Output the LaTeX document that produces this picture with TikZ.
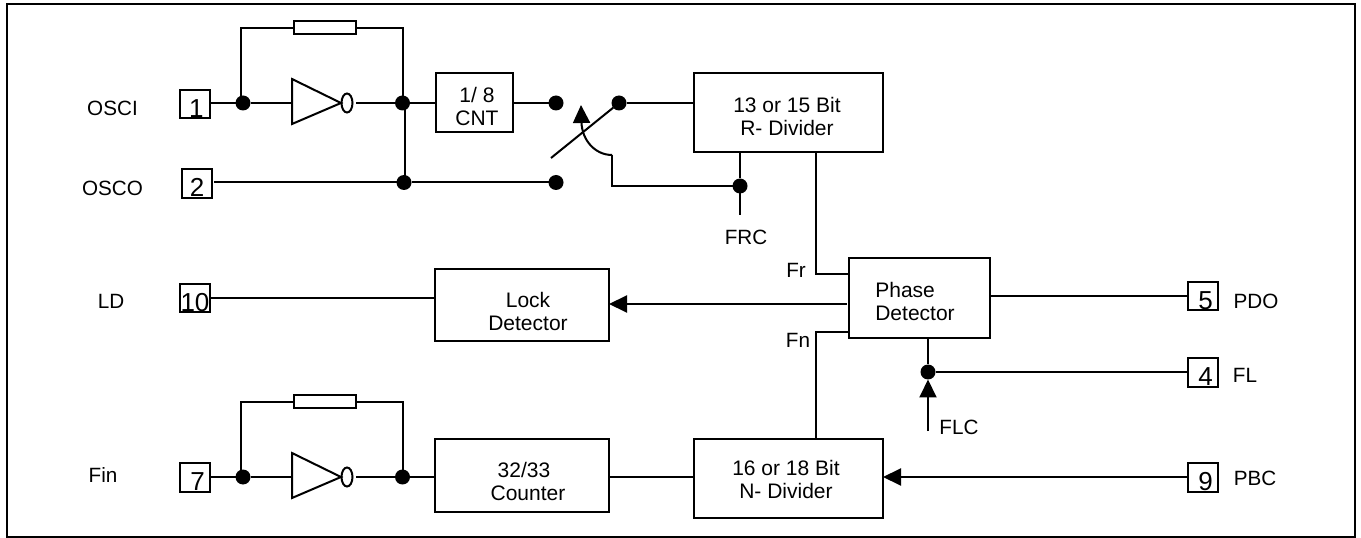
\documentclass[tikz,border=0pt]{standalone}
\usepackage{fontspec}
\setmainfont{Liberation Sans}
\usetikzlibrary{arrows.meta,shapes.geometric}
\newcommand{\pinnum}[2][0pt]{\raisebox{-10pt}[0pt][0pt]{\hspace*{#1}#2}}
\tikzset{every picture/.style={line width=1.5pt}}
\tikzset{
  blockbox/.style={draw,rectangle,inner sep=0pt,outer sep=0pt},
  pinbox/.style={draw,rectangle,inner sep=0pt,outer sep=0pt,minimum width=22.5pt,minimum height=21.5pt,font=\fontsize{19.5}{19.5}\selectfont},
  resbox/.style={draw,rectangle,inner sep=0pt,outer sep=0pt,minimum width=46.5pt,minimum height=9.75pt},
  dotnode/.style={circle,fill=black,inner sep=0pt,outer sep=0pt,minimum size=11.25pt},
  bubble/.style={draw,ellipse,inner sep=0pt,outer sep=0pt,minimum width=8.25pt,minimum height=14.25pt},
  boxtext/.style={inner sep=0pt,align=center,font=\fontsize{15.75}{17.25}\selectfont},
  pinlabel/.style={inner sep=0pt,font=\fontsize{15.5}{17}\selectfont},
  headarrow/.style={-{Triangle[length=13.5pt,width=12.75pt]}}
}
\begin{document}
\begin{tikzpicture}[x=0.75pt,y=0.75pt,yscale=-1,xscale=1]
\useasboundingbox (0,0) rectangle (1361,538);
%Shape: Rectangle
\draw [line width=1.6pt] (7,4) rectangle (1355,537) ;
%Shape: Pins
\draw (195,104) node [pinbox] (pinOne) {\pinnum[2pt]{1}};
\draw (197,183.5) node [pinbox] (pinTwo) {\pinnum{2}};
\draw (195,298) node [pinbox] (pinTen) {\pinnum{10}};
\draw (195,477.5) node [pinbox] (pinSeven) {\pinnum[4pt]{7}};
\draw (1203,296) node [pinbox] (pinFive) {\pinnum[4pt]{5}};
\draw (1203,372.5) node [pinbox] (pinFour) {\pinnum[4pt]{4}};
\draw (1203,477.5) node [pinbox] (pinNine) {\pinnum[4pt]{9}};
%Shape: Blocks
\draw (474.5,102.5) node [blockbox,minimum width=57.75pt,minimum height=44.25pt] (cntBox) {};
\draw (788.5,112.5) node [blockbox,minimum width=141.75pt,minimum height=59.25pt] (rDivider) {};
\draw (919.5,298) node [blockbox,minimum width=105.75pt,minimum height=60pt] (phaseDet) {};
\draw (522,305) node [blockbox,minimum width=130.5pt,minimum height=54pt] (lockDet) {};
\draw (522,475.5) node [blockbox,minimum width=130.5pt,minimum height=54.75pt] (counterBox) {};
\draw (788.5,478.5) node [blockbox,minimum width=141.75pt,minimum height=59.25pt] (nDivider) {};
%Shape: Resistors
\draw (325,28) node [resbox] (resTop) {};
\draw (325,402) node [resbox] (resBot) {};
%Shape: Dots
\draw (243,103) node [dotnode] (dotA) {};
\draw (402.5,103) node [dotnode] (dotB) {};
\draw (404,182.5) node [dotnode] (dotC) {};
\draw (556,103) node [dotnode] (dotD) {};
\draw (619,103) node [dotnode] (dotE) {};
\draw (556,182.5) node [dotnode] (dotF) {};
\draw (740,186) node [dotnode] (dotG) {};
\draw (928,372) node [dotnode] (dotH) {};
\draw (243,477) node [dotnode] (dotI) {};
\draw (402.5,477) node [dotnode] (dotJ) {};
%Shape: Inverters
\coordinate (invTopIn) at (292,103);
\coordinate (invTopOut) at (356,103);
\coordinate (invBotIn) at (292,477);
\coordinate (invBotOut) at (356,477);
\draw (292,79) -- (341,103) -- (292,124) -- cycle ;
\draw (292,453) -- (341,477) -- (292,498) -- cycle ;
\draw (347,103) node [bubble] (bubbleTop) {};
\draw (347,477) node [bubble] (bubbleBot) {};
%Straight Lines
\coordinate (tapTop) at (241,103);
\coordinate (tapBot) at (241,477);
\coordinate (tapOut) at (405,103);
\coordinate (pinTwoOut) at (214,182.5);
\draw    (pinOne.east |- dotA) -- (dotA) ;
\draw    (dotA) -- (invTopIn) ;
\draw    (invTopOut) -- (dotB) ;
\draw    (dotB) -- (cntBox.west |- dotB) ;
\draw    (cntBox.east |- dotD) -- (dotD) ;
\draw    (dotE) -- (rDivider.west |- dotE) ;
\draw    (tapTop) |- (resTop.west) ;
\draw    (resTop.east) -| (dotB.center) ;
\draw    (tapOut) -- (tapOut |- dotC) ;
\draw    (pinTwoOut) -- (dotC) ;
\draw    (dotC) -- (dotF) ;
%Switch
\coordinate (swFree) at (551,158);
\coordinate (swBend) at (612,155);
\coordinate (frcEnd) at (740,215);
\coordinate (swTip) at (581,105);
\draw    (swFree) -- (dotE) ;
\draw [headarrow]   (swBend) .. controls (595,155) and (582,140) .. (swTip) ;
\draw    (swBend) |- (dotG) ;
\draw    (rDivider.south -| dotG) -- (dotG) ;
\draw    (dotG) -- (frcEnd) ;
%Phase detector lines
\coordinate (frBend) at (816,274);
\coordinate (fnBend) at (816,332);
\draw    (rDivider.south -| frBend) -- (frBend) -- (phaseDet.west |- frBend) ;
\draw    (phaseDet.west |- fnBend) -- (fnBend) -- (nDivider.north -| fnBend) ;
\coordinate (lockStart) at (847,304);
\draw [headarrow]   (lockStart) -- (lockDet.east |- lockStart) ;
\draw    (pinTen.east) -- (lockDet.west |- pinTen) ;
\draw    (phaseDet.east |- pinFive) -- (pinFive.west) ;
\draw    (phaseDet.south -| dotH) -- (dotH) ;
\draw    (dotH) -- (pinFour.west |- dotH) ;
\coordinate (flcEnd) at (928,431);
\draw [headarrow]   (flcEnd) -- (dotH.south) ;
%Lower chain
\draw    (pinSeven.east |- dotI) -- (dotI) ;
\draw    (dotI) -- (invBotIn) ;
\draw    (invBotOut) -- (dotJ) ;
\draw    (dotJ) -- (counterBox.west |- dotJ) ;
\draw    (tapBot) |- (resBot.west) ;
\draw    (resBot.east) -| (dotJ.center) ;
\draw    (counterBox.east |- dotJ) -- (nDivider.west |- dotJ) ;
\draw [headarrow]   (pinNine.west |- dotJ) -- (nDivider.east |- dotJ) ;
% Text Node
\draw (477,106) node [boxtext] (cntText) {1/ 8\\CNT};
% Text Node
\draw (787,116.5) node [boxtext] (rText) {13 or 15 Bit\\R- Divider};
% Text Node
\draw (915,301.5) node [boxtext,align=left] (phaseText) {Phase\\Detector};
% Text Node
\draw (528,311.5) node [boxtext] (lockText) {Lock\\Detector};
% Text Node
\draw (528,481.5) node [boxtext] (counterText) {32/33\hspace*{6pt}\\Counter};
% Text Node
\draw (786,479) node [boxtext] (nText) {16 or 18 Bit\\N- Divider};
% Text Node
\draw (112.5,108) node [pinlabel] (osciLabel) {OSCI};
% Text Node
\draw (112.5,188) node [pinlabel] (oscoLabel) {OSCO};
% Text Node
\draw (111,301) node [pinlabel] (ldLabel) {LD};
% Text Node
\draw (103,475) node [pinlabel] (finLabel) {Fin};
% Text Node
\draw (746,237) node [pinlabel] (frcLabel) {FRC};
% Text Node
\draw (796,270) node [pinlabel] (frLabel) {Fr};
% Text Node
\draw (798,340) node [pinlabel] (fnLabel) {Fn};
% Text Node
\draw (959,427) node [pinlabel] (flcLabel) {FLC};
% Text Node
\draw (1256,301) node [pinlabel] (pdoLabel) {PDO};
% Text Node
\draw (1245,375) node [pinlabel] (flLabel) {FL};
% Text Node
\draw (1255,478) node [pinlabel] (pbcLabel) {PBC};
\end{tikzpicture}
\end{document}
